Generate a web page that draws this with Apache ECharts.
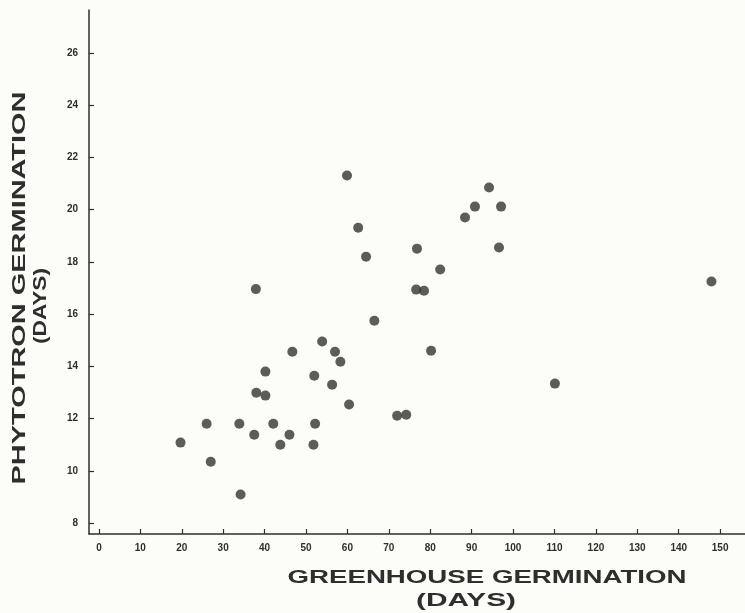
<!DOCTYPE html>
<html>
<head>
<meta charset="utf-8">
<script src="https://cdn.jsdelivr.net/npm/echarts@6/dist/echarts.min.js"></script>
<style>
	html, body { margin: 0; padding: 0; background: #fcfcf8; }
	#chart { width: 745px; height: 613px; }
</style>
</head>
<body>
<div id="chart"></div>
<script>
// greenhouse vs phytotron germination, days
const greenhouseDays = [19.7, 26.0, 27.0, 33.9, 34.2, 37.5, 38.0, 37.9, 40.2, 40.2,
	42.1, 43.8, 46.0, 46.7, 52.0, 52.2, 51.8, 53.9, 56.3, 57.0,
	58.3, 59.9, 60.4, 62.6, 64.5, 66.5, 72.0, 74.2, 76.8, 76.6,
	78.5, 80.2, 82.4, 88.4, 90.8, 94.2, 97.1, 96.6, 110.1, 147.9];
const phytotronDays = [11.08, 11.80, 10.35, 11.80, 9.09, 11.38, 12.99, 16.96, 13.80, 12.88,
	11.80, 11.00, 11.38, 14.56, 13.64, 11.80, 11.00, 14.95, 13.30, 14.56,
	14.18, 21.31, 12.54, 19.31, 18.20, 15.75, 12.11, 12.15, 18.51, 16.94,
	16.90, 14.60, 17.71, 19.70, 20.12, 20.85, 20.12, 18.55, 13.34, 17.25];
const xTicks = [0, 10, 20, 30, 40, 50, 60, 70, 80, 90, 100, 110, 120, 130, 140, 150];
const yTicks = [8, 10, 12, 14, 16, 18, 20, 22, 24, 26];

const ink = '#2e2e2e';
const titleFont = 'bold 19px "Liberation Sans", Arial, sans-serif';

// stretch factor so the bold titles get the wide look of the original
const measureCtx = document.createElement('canvas').getContext('2d');
function stretch(text, target) {
	measureCtx.font = titleFont;
	return target / measureCtx.measureText(text).width;
}

function titleText(text, x, y, width, rotation) {
	return {
		type: 'text',
		x: x,
		y: y,
		rotation: rotation || 0,
		scaleX: stretch(text, width),
		style: {
			text: text,
			font: titleFont,
			fill: ink,
			align: 'center',
			verticalAlign: 'middle'
		}
	};
}

const chart = echarts.init(document.getElementById('chart'));
const option = {
	backgroundColor: '#fcfcf8',
	animation: false,
	grid: {
		left: 89,
		right: 0,
		top: 10,
		bottom: 79
	},
	xAxis: {
		type: 'value',
		min: -2.4,
		max: 156,
		axisLine: {
			show: true,
			onZero: false,
			lineStyle: { color: ink, width: 1.5 }
		},
		axisTick: {
			show: true,
			inside: true,
			length: 5,
			customValues: xTicks,
			lineStyle: { color: ink, width: 1.2 }
		},
		axisLabel: {
			customValues: xTicks,
			margin: 9,
			color: ink,
			fontSize: 10,
			fontWeight: 'bold',
			fontFamily: '"Liberation Sans", Arial, sans-serif'
		},
		splitLine: { show: false }
	},
	yAxis: {
		type: 'value',
		min: 7.58,
		max: 27.65,
		axisLine: {
			show: true,
			onZero: false,
			lineStyle: { color: ink, width: 1.5 }
		},
		axisTick: {
			show: true,
			inside: true,
			length: 5,
			customValues: yTicks,
			lineStyle: { color: ink, width: 1.2 }
		},
		axisLabel: {
			customValues: yTicks,
			margin: 11,
			color: ink,
			fontSize: 10,
			fontWeight: 'bold',
			fontFamily: '"Liberation Sans", Arial, sans-serif'
		},
		splitLine: { show: false }
	},
	series: [{
		type: 'scatter',
		symbol: 'circle',
		symbolSize: 10,
		itemStyle: { color: '#333333' },
		data: greenhouseDays.map(function (g, i) {
			return [g, phytotronDays[i]];
		})
	}],
	graphic: [
		titleText('GREENHOUSE GERMINATION', 487, 578, 399),
		titleText('(DAYS)', 466, 601, 100),
		titleText('PHYTOTRON GERMINATION', 20, 288, 393, Math.PI / 2),
		titleText('(DAYS)', 41, 306, 76, Math.PI / 2)
	]
};
chart.setOption(option);
</script>
</body>
</html>
